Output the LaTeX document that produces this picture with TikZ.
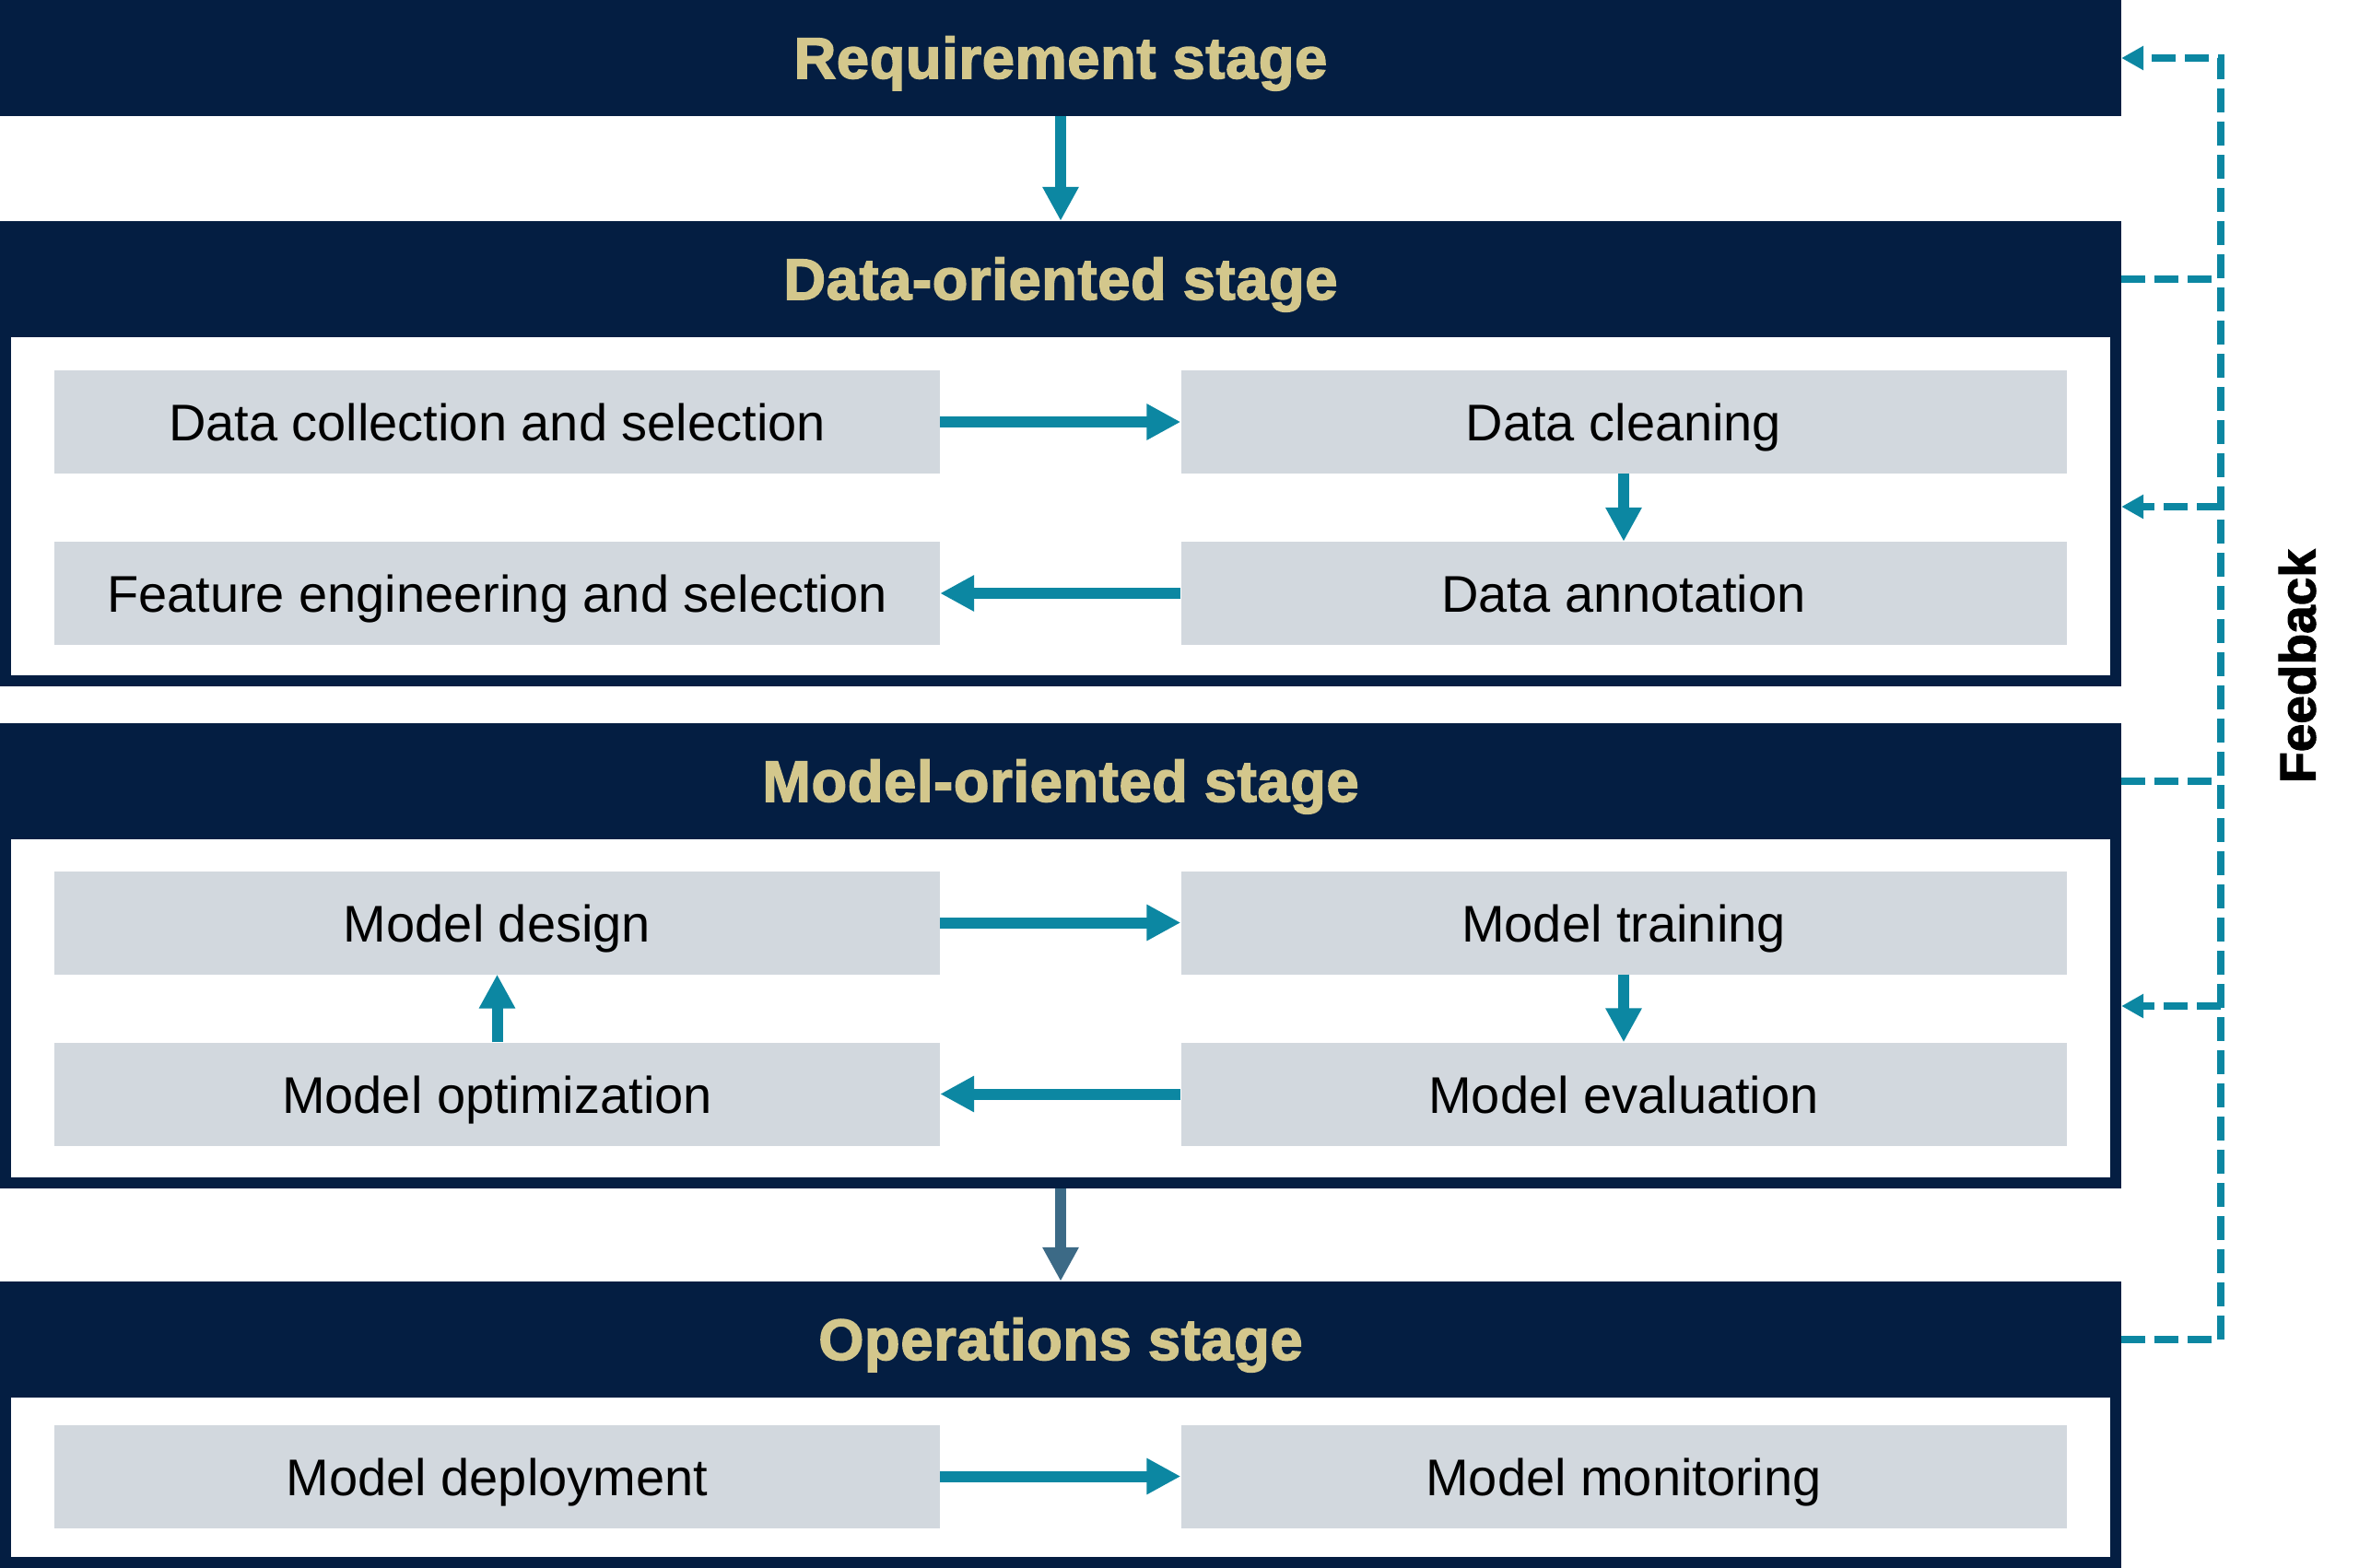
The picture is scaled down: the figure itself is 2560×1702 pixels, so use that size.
\documentclass[tikz,border=0pt]{standalone}
\usepackage{fontspec}
\setmainfont{Liberation Sans}
\newfontfamily\hdrfont{Liberation Sans Bold}[FakeBold=2.5, LetterSpace=1.2]
\newfontfamily\fbfont{Liberation Sans Bold}[FakeBold=2.0]
\usetikzlibrary{arrows.meta}
\definecolor{navyc}{HTML}{041E42}
\definecolor{tanc}{HTML}{D3C78C}
\definecolor{tealc}{HTML}{0C87A2}
\definecolor{slatec}{HTML}{3C6A86}
\definecolor{greyc}{HTML}{D2D8DE}
\begin{document}
\begin{tikzpicture}[x=1pt,y=-1pt,
  hdr/.style={fill=navyc, minimum width=2302pt, minimum height=126pt, inner sep=0pt,
    text=tanc, font=\fontsize{63}{70}\hdrfont, text height=44pt, text depth=0pt},
  frameouter/.style={fill=navyc, minimum width=2302pt, inner sep=0pt},
  framein/.style={fill=white, minimum width=2278pt, inner sep=0pt},
  task/.style={fill=greyc, minimum width=961pt, minimum height=112pt, inner sep=0pt,
    font=\fontsize{56}{60}\selectfont, text height=41pt, text depth=0pt},
  flow/.style={color=tealc, line width=12pt, -{Triangle[length=37pt,width=37pt]}},
  fb/.style={color=tealc, line width=8pt, dash pattern=on 26pt off 10pt},
  fbarrow/.style={fb, -{Triangle[length=24pt,width=25pt]}}
]
\useasboundingbox (0,0) rectangle (2560,1702);
\fill[white] (0,0) rectangle (2560,1702);

% Requirement stage
\node[hdr] (req) at (1151,63) {Requirement stage};

% Data-oriented stage
\node[frameouter, minimum height=505pt] (dataF) at (1151,492.5) {};
\node[framein, minimum height=367pt] (dataI) at (1151,549.5) {};
\node[hdr] (dataH) at (1151,303) {Data-oriented stage};
\node[task] (dc) at (539.5,458) {Data collection and selection};
\node[task] (clean) at (1762,458) {Data cleaning};
\node[task] (feat) at (539.5,644) {Feature engineering and selection};
\node[task] (annot) at (1762,644) {Data annotation};

% Model-oriented stage
\node[frameouter, minimum height=505pt] (mdlF) at (1151,1037.5) {};
\node[framein, minimum height=367pt] (mdlI) at (1151,1094.5) {};
\node[hdr] (mdlH) at (1151,848) {Model-oriented stage};
\node[task] (design) at (539.5,1001.5) {Model design};
\node[task] (train) at (1762,1001.5) {Model training};
\node[task] (opt) at (539.5,1187.5) {Model optimization};
\node[task] (eval) at (1762,1187.5) {Model evaluation};

% Operations stage
\node[frameouter, minimum height=311pt] (opsF) at (1151,1546.5) {};
\node[framein, minimum height=173pt] (opsI) at (1151,1603.5) {};
\node[hdr] (opsH) at (1151,1454) {Operations stage};
\node[task] (deploy) at (539.5,1602.5) {Model deployment};
\node[task] (monitor) at (1762,1602.5) {Model monitoring};

% Flow arrows
\draw[flow] (req.south) -- (dataF.north);
\draw[flow] (dc.east) -- (clean.west);
\draw[flow] (clean.south) -- (annot.north);
\draw[flow] (annot.west) -- (feat.east);
\draw[flow] (design.east) -- (train.west);
\draw[flow] (train.south) -- (eval.north);
\draw[flow] (eval.west) -- (opt.east);
\draw[flow] (opt.north) -- (design.south);
\draw[flow, color=slatec] (mdlF.south) -- (opsH.north);
\draw[flow] (deploy.east) -- (monitor.west);

% Feedback loop
\coordinate (spine) at (2410,0);
\draw[fbarrow] (opsH.east) -- (opsH.east -| spine) -- (req.east -| spine) -- (req.east);
\draw[fb] (dataH.east) -- (dataH.east -| spine);
\draw[fb] (mdlH.east) -- (mdlH.east -| spine);
\coordinate (fbD) at (2410,550);
\draw[fbarrow] (fbD) -- (fbD -| dataF.east);
\coordinate (fbM) at (2410,1092);
\draw[fbarrow] (fbM) -- (fbM -| mdlF.east);
\node[rotate=90, font=\fontsize{55}{60}\fbfont] (fblabel) at (2493,723) {Feedback};
\end{tikzpicture}
\end{document}
